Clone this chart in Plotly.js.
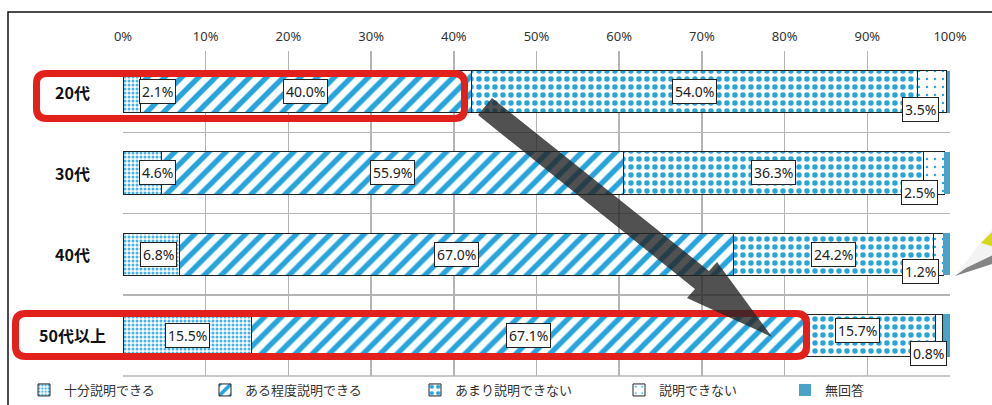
<!DOCTYPE html>
<html>
<head>
<meta charset="utf-8">
<script src="https://cdn.plot.ly/plotly-3.0.1.min.js"></script>
<style>
  html, body { margin: 0; padding: 0; background: #fff; }
  #chart { width: 992px; height: 405px; }
</style>
</head>
<body>
<div id="chart"></div>
<script>
// ---- data ----
const categories = ['20代', '30代', '40代', '50代以上'];
const seriesNames = ['十分説明できる', 'ある程度説明できる', 'あまり説明できない', '説明できない', '無回答'];
const juubun   = [2.1, 4.6, 6.8, 15.5];
const aruteido = [40.0, 55.9, 67.0, 67.1];
const amari    = [54.0, 36.3, 24.2, 15.7];
const dekinai  = [3.5, 2.5, 1.2, 0.8];
const mukaitou = [0.4, 0.7, 0.8, 0.9];
const tickValues = [0, 10, 20, 30, 40, 50, 60, 70, 80, 90, 100];
const tickLabels = ['0%', '10%', '20%', '30%', '40%', '50%', '60%', '70%', '80%', '90%', '100%'];

const seriesValues = [juubun, aruteido, amari, dekinai, mukaitou];

// ---- styles ----
const BLUE = '#27a4dd';
const patterns = [
  { shape: '.', fgcolor: '#45b2e8', bgcolor: '#ffffff', size: 4, solidity: 0.45, fillmode: 'replace' },
  { shape: '/', fgcolor: BLUE, bgcolor: '#ffffff', size: 12, solidity: 0.45, fillmode: 'replace' },
  { shape: '.', fgcolor: BLUE, bgcolor: '#ffffff', size: 8, solidity: 0.36, fillmode: 'replace' },
  { shape: '.', fgcolor: BLUE, bgcolor: '#ffffff', size: 8, solidity: 0.07, fillmode: 'replace' },
  null
];
const legendIds = ['legend', 'legend2', 'legend3', 'legend4', 'legend5'];
const legendTextPx = [62, 243, 453, 657, 823];

// plot-area geometry (pixels) for decorations
const L = 123, R = 950, T = 51, B = 376;
const px = x => (x - L) / (R - L);
const py = y => (B - y) / (B - T);
const P = (x, y) => px(x).toFixed(5) + ',' + py(y).toFixed(5);

const traces = seriesValues.map((vals, i) => {
  const t = {
    type: 'bar',
    orientation: 'h',
    name: seriesNames[i],
    y: categories,
    x: vals,
    width: 0.52,
    legend: legendIds[i],
    hoverinfo: 'skip',
    marker: {
      color: i === 4 ? '#4aa3c6' : '#ffffff',
      line: { color: i === 4 ? '#4aa3c6' : '#222222', width: i === 4 ? 0 : 1 }
    }
  };
  if (patterns[i]) t.marker.pattern = patterns[i];
  return t;
});

// label nudges (px) for boxed value labels
const nudgeX = [[26, 15, 7, 0], [0, 0, 0, 0], [0, 0, 0, -14], [-12, -14, -18, -11]];
const nudgeY = [[0, 0, 0, 0], [0, 0, 0, 0], [0, 0, 0, 5], [-18, -20, -17, -18]];

const annotations = [];
categories.forEach((cat, r) => {
  let start = 0;
  for (let s = 0; s < 4; s++) {
    const v = seriesValues[s][r];
    annotations.push({
      x: start + v / 2, y: cat, xref: 'x', yref: 'y',
      text: v.toFixed(1) + '%', showarrow: false,
      xshift: nudgeX[s][r], yshift: nudgeY[s][r],
      font: { family: 'Noto Sans, DejaVu Sans, sans-serif', size: 14, color: '#222' },
      bgcolor: '#ffffff', bordercolor: '#222222', borderwidth: 1, borderpad: 2
    });
    start += v;
  }
  annotations.push({
    x: px(72), y: cat, xref: 'paper', yref: 'y', xanchor: 'center',
    text: '<b>' + cat + '</b>', showarrow: false,
    font: { family: 'Noto Sans CJK JP, sans-serif', size: 16, color: '#111' }
  });
});

function roundRect(x0, y0, x1, y1, r) {
  return 'M' + P(x0 + r, y0) + ' L' + P(x1 - r, y0) + ' Q' + P(x1, y0) + ' ' + P(x1, y0 + r) +
    ' L' + P(x1, y1 - r) + ' Q' + P(x1, y1) + ' ' + P(x1 - r, y1) +
    ' L' + P(x0 + r, y1) + ' Q' + P(x0, y1) + ' ' + P(x0, y1 - r) +
    ' L' + P(x0, y0 + r) + ' Q' + P(x0, y0) + ' ' + P(x0 + r, y0) + ' Z';
}
function poly(pts) {
  return 'M' + pts.map(p => P(p[0], p[1])).join(' L') + ' Z';
}

const shapes = [
  // bottom border of plot area
  { type: 'line', xref: 'paper', yref: 'paper', x0: 0, x1: 1, y0: 0, y1: 0, line: { color: '#b4b4b4', width: 1.5 } },
  // outer frame (cut off at right/bottom)
  { type: 'path', xref: 'paper', yref: 'paper', path: 'M' + P(8, 420) + ' L' + P(8, 12) + ' L' + P(1000, 12),
    line: { color: '#111', width: 1.5 }, layer: 'above' },
  // red highlight boxes
  { type: 'path', xref: 'paper', yref: 'paper', path: roundRect(36.5, 73.5, 464.5, 118.5, 10),
    line: { color: '#e3211c', width: 7 }, fillcolor: 'rgba(0,0,0,0)', layer: 'above' },
  { type: 'path', xref: 'paper', yref: 'paper', path: roundRect(15.5, 313.5, 806.5, 356.5, 10),
    line: { color: '#e3211c', width: 7 }, fillcolor: 'rgba(0,0,0,0)', layer: 'above' },
  // big arrow
  { type: 'path', xref: 'paper', yref: 'paper',
    path: poly([[478, 115], [492, 98], [709, 271], [717, 262], [772, 337], [687, 298], [695, 289]]),
    line: { width: 0 }, fillcolor: 'rgba(38,38,38,0.8)', layer: 'above' },
  // callout fragment at right edge
  { type: 'path', xref: 'paper', yref: 'paper', path: poly([[955, 276], [995, 224], [995, 263]]),
    line: { width: 0 }, fillcolor: 'rgba(215,215,215,0.3)', layer: 'above' },
  { type: 'path', xref: 'paper', yref: 'paper', path: poly([[981, 243], [995, 229], [995, 247]]),
    line: { width: 0 }, fillcolor: '#d6d81c', layer: 'above' },
  { type: 'path', xref: 'paper', yref: 'paper', path: poly([[955, 276], [966, 268], [995, 254], [995, 263]]),
    line: { width: 0 }, fillcolor: '#858585', layer: 'above' }
];

const legendFont = { family: 'Noto Sans CJK JP, sans-serif', size: 13, color: '#333' };
const layout = {
  width: 992, height: 405,
  margin: { l: L, r: 992 - R, t: T, b: 405 - B, pad: 0, autoexpand: false },
  paper_bgcolor: '#ffffff', plot_bgcolor: '#ffffff',
  barmode: 'stack',
  showlegend: true,
  xaxis: {
    side: 'top', range: [0, 100], tickmode: 'array', tickvals: tickValues, ticktext: tickLabels,
    showgrid: true, gridcolor: '#b4b4b4', gridwidth: 1.5, zeroline: false, showline: false, ticks: '',
    fixedrange: true, ticklabelstandoff: 6,
    tickfont: { family: 'Noto Sans, DejaVu Sans, sans-serif', size: 13, color: '#333' }
  },
  yaxis: {
    type: 'category', autorange: 'reversed', tickson: 'boundaries', showgrid: true,
    gridcolor: '#b4b4b4', gridwidth: 1.5, showticklabels: false, ticks: '', zeroline: false, showline: false,
    fixedrange: true
  },
  annotations: annotations,
  shapes: shapes
};
legendIds.forEach((id, i) => {
  layout[id] = {
    orientation: 'h', x: px(legendTextPx[i] - 38), xanchor: 'left', y: py(390), yanchor: 'middle',
    font: legendFont, bgcolor: 'rgba(0,0,0,0)', borderwidth: 0, tracegroupgap: 0
  };
});

Plotly.newPlot('chart', traces, layout, { displayModeBar: false, staticPlot: true });
</script>
</body>
</html>
